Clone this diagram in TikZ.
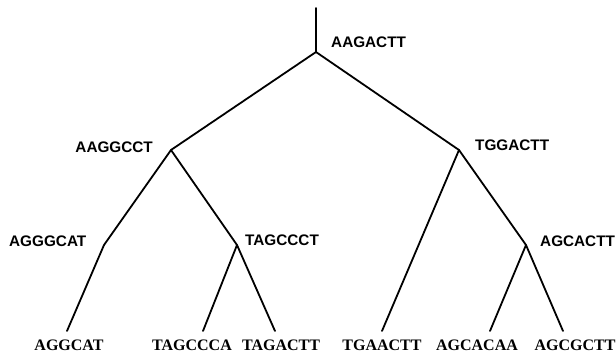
\documentclass[tikz,border=0pt]{standalone}
\usepackage{fontspec}
\setmainfont{Liberation Serif}
\setsansfont{Liberation Sans}
\begin{document}
\begin{tikzpicture}[x=1pt,y=-1pt,
  edge/.style={line width=1.8pt,line cap=round,line join=round},
  inlab/.style={font=\sffamily\bfseries\fontsize{15.3}{17}\selectfont,inner sep=0pt},
  leaflab/.style={font=\rmfamily\bfseries\fontsize{16}{18}\selectfont,inner sep=0pt,anchor=base}]
\useasboundingbox (0,0) rectangle (616,356);
\coordinate (top) at (316,8);
\coordinate (r) at (316,52);
\coordinate (n1) at (171,150);
\coordinate (n2) at (459,150);
\coordinate (n3) at (104,245);
\coordinate (n4) at (237,245);
\coordinate (n5) at (526,245);
\coordinate (l1) at (67,331);
\coordinate (l2) at (203,331);
\coordinate (l3) at (275,331);
\coordinate (l4) at (382,331);
\coordinate (l5) at (490,331);
\coordinate (l6) at (563,331);
\draw[edge] (top) -- (r);
\draw[edge] (r) -- (n1);
\draw[edge] (r) -- (n2);
\draw[edge] (n1) -- (n3);
\draw[edge] (n1) -- (n4);
\draw[edge] (n3) -- (l1);
\draw[edge] (n4) -- (l2);
\draw[edge] (n4) -- (l3);
\draw[edge] (n2) -- (l4);
\draw[edge] (n2) -- (n5);
\draw[edge] (n5) -- (l5);
\draw[edge] (n5) -- (l6);
\node[inlab,anchor=west] (tr) at (331,42) {AAGACTT};
\node[inlab,anchor=east] (t1) at (153,147) {AAGGCCT};
\node[inlab,anchor=west] (t2) at (475,145) {TGGACTT};
\node[inlab,anchor=west] (t3) at (9,241) {AGGGCAT};
\node[inlab,anchor=west] (t4) at (245,240) {TAGCCCT};
\node[inlab,anchor=west] (t5) at (540,241) {AGCACTT};
\node[leaflab] (a1) at (69,350) {AGGCAT};
\node[leaflab] (a2) at (192,350) {TAGCCCA};
\node[leaflab] (a3) at (281,350) {TAGACTT};
\node[leaflab] (a4) at (382,350) {TGAACTT};
\node[leaflab] (a5) at (477,350) {AGCACAA};
\node[leaflab] (a6) at (575,350) {AGCGCTT};
\end{tikzpicture}
\end{document}
